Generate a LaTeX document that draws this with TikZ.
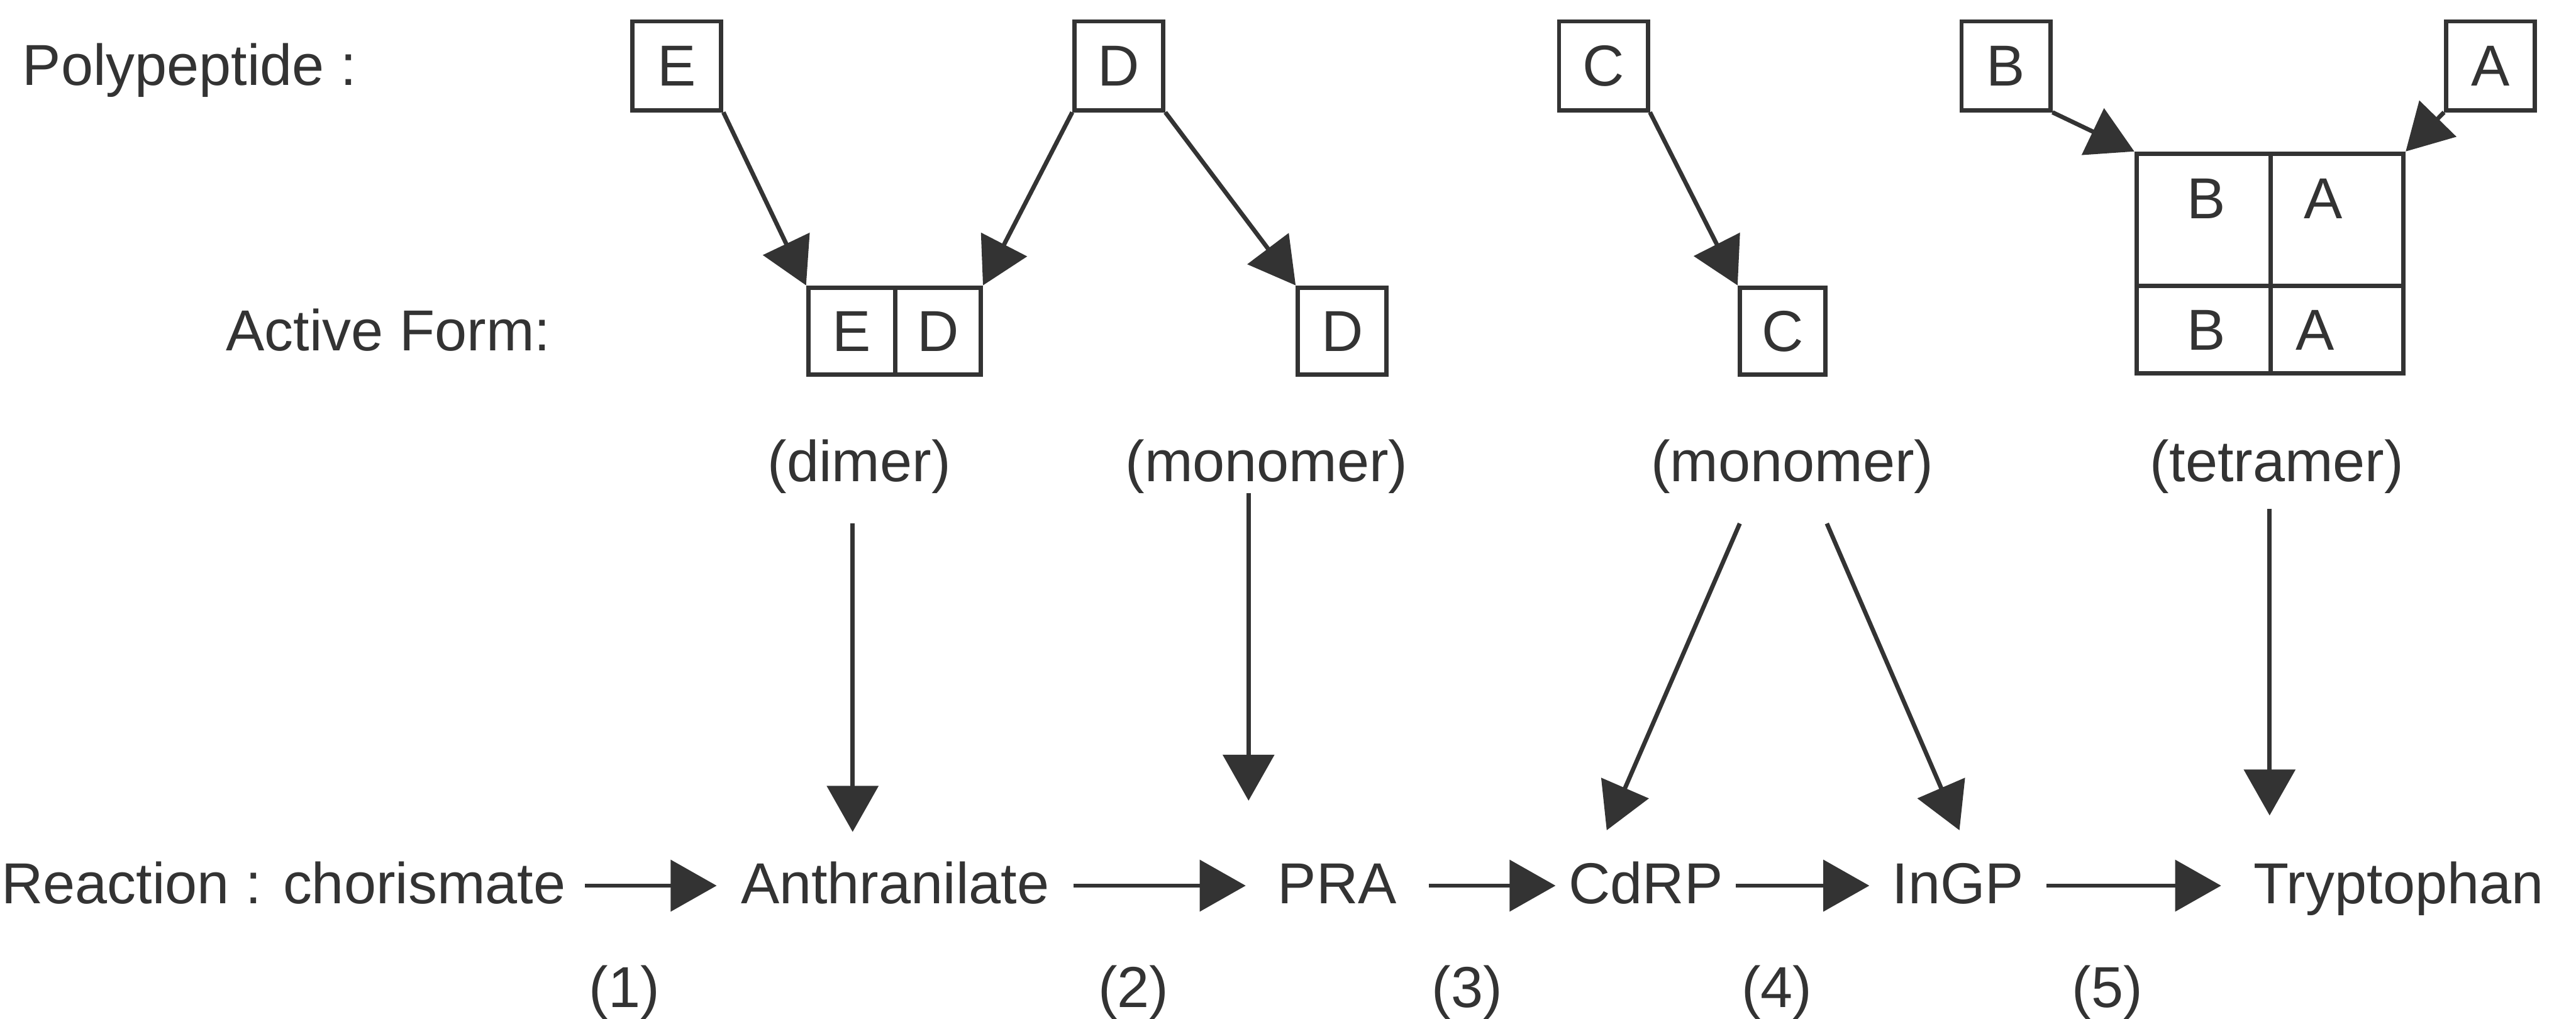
\documentclass[tikz,border=0pt]{standalone}
\usepackage{fontspec}
\setmainfont{Liberation Sans}
\usetikzlibrary{arrows.meta,calc}
\definecolor{ink}{HTML}{333333}
\begin{document}
\begin{tikzpicture}[x=0.01cm, y=-0.01cm,
  font=\fontsize{10}{12}\selectfont,
  every node/.style={text=ink},
  box/.style={draw=ink, line width=0.75pt, inner sep=0pt, minimum width=0.54cm, minimum height=0.54cm},
  cell/.style={draw=ink, line width=0.75pt, inner sep=0pt},
  letter/.style={inner sep=0pt},
  lbl/.style={anchor=base, inner sep=0pt},
  rx/.style={anchor=base, inner sep=0pt, text height=0.22cm, text depth=0pt},
  arr/.style={draw=ink, line width=0.75pt, -{Triangle[length=0.28cm, width=0.31cm]}}
]
\useasboundingbox (0,0) rectangle (1568,620);

% row labels
\node[lbl, anchor=base west] (polylab) at (13,52) {Polypeptide :};
\node[lbl, anchor=base west] (activelab) at (137,213.5) {Active Form:};

% polypeptides
\node[box] (Ep) at (412,40) {E};
\node[box] (Dp) at (681,40) {D};
\node[box] (Cp) at (976,40) {C};
\node[box] (Bp) at (1221,40) {B};
\node[box] (Ap) at (1516,40) {A};

% active forms
\node[box, minimum width=0.53cm, minimum height=0.53cm] (EDe) at (518.5,201.5) {E};
\node[box, minimum width=0.52cm, minimum height=0.53cm] (EDd) at (571,201.5) {D};
\node[box, minimum height=0.53cm] (Da) at (817,201.5) {D};
\node[box, minimum width=0.52cm, minimum height=0.53cm] (Ca) at (1085,201.5) {C};

\node[cell, minimum width=0.815cm, minimum height=0.805cm] (TB1) at (1341.25,133.75) {};
\node[cell, minimum width=0.81cm, minimum height=0.805cm] (TA1) at (1422.5,133.75) {};
\node[cell, minimum width=0.815cm, minimum height=0.53cm] (TB2) at (1341.25,200.5) {};
\node[cell, minimum width=0.81cm, minimum height=0.53cm] (TA2) at (1422.5,200.5) {};
\node[letter] (tb1) at (1343,121) {B};
\node[letter] (ta1) at (1414,121) {A};
\node[letter] (tb2) at (1343,201) {B};
\node[letter] (ta2) at (1409,201) {A};

% form labels
\node[lbl] (dimer) at (523,293) {(dimer)};
\node[lbl] (monoD) at (771,293) {(monomer)};
\node[lbl] (monoC) at (1091,293) {(monomer)};
\node[lbl] (tetra) at (1386,293) {(tetramer)};

% reaction row
\node[rx, anchor=base east, inner xsep=0.11cm] (chor) at (356,550) {Reaction : chorismate};
\node[rx, minimum width=2.156cm] (anth) at (544.8,550) {Anthranilate};
\node[rx, minimum width=1.10cm] (pra) at (814,550) {PRA};
\node[rx, minimum width=1.084cm] (cdrp) at (1001.8,550) {CdRP};
\node[rx, minimum width=1.064cm] (ingp) at (1191.8,550) {InGP};
\node[rx, anchor=base west, inner xsep=0.19cm] (tryp) at (1352,550) {Tryptophan};

% step numbers
\node[lbl] (n1) at (380,613) {(1)};
\node[lbl] (n2) at (690,613) {(2)};
\node[lbl] (n3) at (893,613) {(3)};
\node[lbl] (n4) at (1081.6,613) {(4)};
\node[lbl] (n5) at (1282.7,613) {(5)};

% assembly arrows
\draw[arr] (Ep.south east) -- (EDe.north west);
\draw[arr] (Dp.south west) -- (EDd.north east);
\draw[arr] (Dp.south east) -- (Da.north west);
\draw[arr] (Cp.south east) -- (Ca.north west);
\draw[arr] (Bp.south east) -- (TB1.north west);
\draw[arr] (Ap.south west) -- (TA1.north east);

% enzyme arrows
\draw[arr] ($(dimer.south)+(-4,17.6)$) -- ($(dimer.south |- anth.north)+(-4,-21)$);
\draw[arr] ($(monoD.south)+(-11,-1)$) -- ($(monoD.south |- pra.north)+(-11,-40)$);
\draw[arr] ($(monoC.south)+(-32,17.6)$) -- ($(cdrp.north)+(-23.8,-22)$);
\draw[arr] ($(monoC.south)+(21,17.6)$) -- ($(ingp.north)+(0.9,-22)$);
\draw[arr] ($(tetra.south)+(-4.5,8.6)$) -- ($(tetra.south |- tryp.north)+(-4.5,-31)$);

% reaction arrows
\draw[arr] (chor.east) -- (anth.west);
\draw[arr] (anth.east) -- (pra.west);
\draw[arr] (pra.east) -- (cdrp.west);
\draw[arr] (cdrp.east) -- (ingp.west);
\draw[arr] (ingp.east) -- (tryp.west);
\end{tikzpicture}
\end{document}
